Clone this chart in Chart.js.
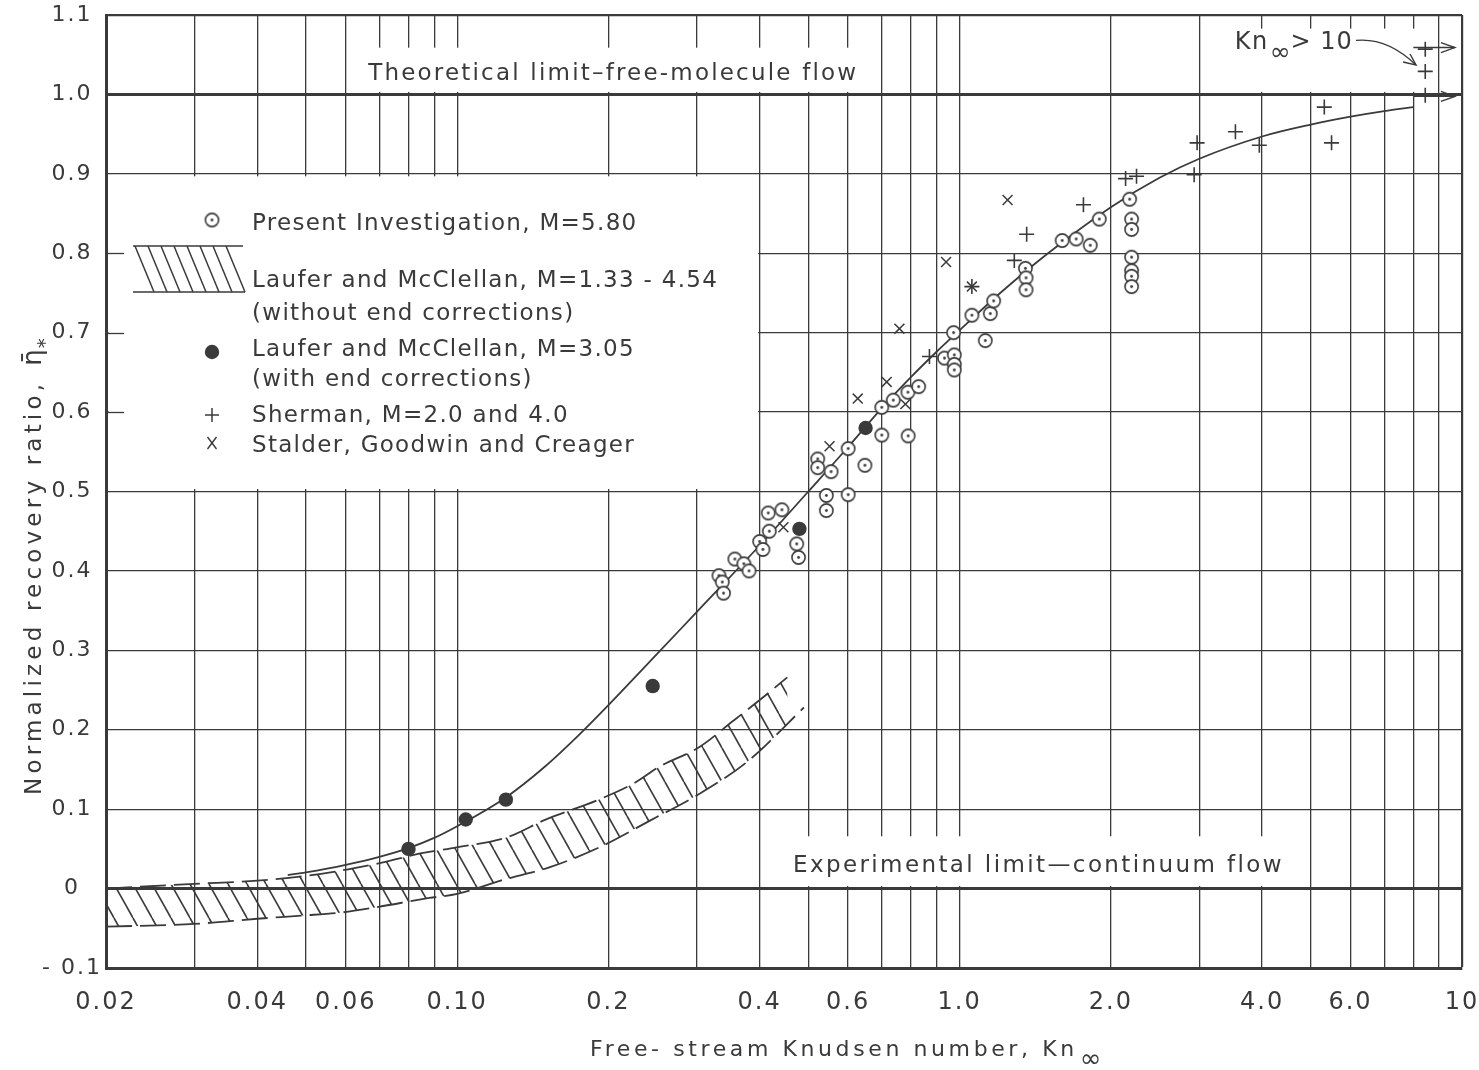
<!DOCTYPE html>
<html>
<head>
<meta charset="utf-8">
<title>Normalized recovery ratio vs free-stream Knudsen number</title>
<script src="https://cdn.jsdelivr.net/npm/chart.js@4.4.1/dist/chart.umd.min.js"></script>
<style>
html, body { margin: 0; padding: 0; background: #ffffff; }
#wrap { position: relative; width: 1479px; height: 1070px; }
canvas { display: block; }
</style>
</head>
<body>
<div id="wrap"><canvas id="chart" width="1479" height="1070"></canvas></div>
<script>
// ================= DATA =================
const xGridValues = [0.02, 0.03, 0.04, 0.05, 0.06, 0.07, 0.08, 0.09, 0.1, 0.2, 0.3, 0.4, 0.5, 0.6, 0.7, 0.8, 0.9, 1, 2, 3, 4, 5, 6, 7, 8, 9, 10];
const xLabelValues = [0.02, 0.04, 0.06, 0.1, 0.2, 0.4, 0.6, 1, 2, 4, 6, 10];
const xLabelTexts  = ['0.02', '0.04', '0.06', '0.10', '0.2', '0.4', '0.6', '1.0', '2.0', '4.0', '6.0', '10'];
const yGridValues  = [-0.1, 0, 0.1, 0.2, 0.3, 0.4, 0.5, 0.6, 0.7, 0.8, 0.9, 1.0, 1.1];
const yLabelTexts  = ['- 0.1', '0', '0.1', '0.2', '0.3', '0.4', '0.5', '0.6', '0.7', '0.8', '0.9', '1.0', '1.1'];

// Present Investigation, M = 5.80
const presentX = [0.332, 0.337, 0.339, 0.357, 0.372, 0.381, 0.400, 0.406, 0.418, 0.416, 0.443, 0.474, 0.478,
                  0.522, 0.522, 0.555, 0.543, 0.543, 0.600, 0.600, 0.648, 0.700, 0.700, 0.738, 0.789, 0.790, 0.829,
                  0.933, 0.976, 0.976, 0.976, 0.973, 1.058, 1.151, 1.169, 1.125, 1.352, 1.356, 1.356,
                  1.60, 1.706, 1.82, 1.897, 2.18, 2.20, 2.20, 2.20, 2.20, 2.20, 2.20];
const presentY = [0.394, 0.386, 0.372, 0.415, 0.409, 0.400, 0.437, 0.427, 0.450, 0.473, 0.477, 0.434, 0.417,
                  0.541, 0.530, 0.525, 0.495, 0.476, 0.554, 0.496, 0.533, 0.606, 0.571, 0.615, 0.625, 0.570, 0.632,
                  0.668, 0.672, 0.660, 0.653, 0.700, 0.722, 0.724, 0.740, 0.690, 0.781, 0.769, 0.754,
                  0.816, 0.818, 0.810, 0.843, 0.868, 0.843, 0.830, 0.795, 0.778, 0.771, 0.758];

// Laufer and McClellan, M = 3.05 (with end corrections)
const lauferX = [0.080, 0.104, 0.125, 0.245, 0.480, 0.650];
const lauferY = [0.050, 0.087, 0.112, 0.255, 0.453, 0.580];

// Sherman, M = 2.0 and 4.0 (last three: Kn > 10)
const shermanX = [0.871, 1.058, 1.285, 1.36, 1.764, 2.14, 2.25, 2.93, 2.97, 3.54, 3.95, 5.32, 5.50, 8.45, 8.45, 8.45];
const shermanY = [0.670, 0.758, 0.791, 0.824, 0.861, 0.894, 0.897, 0.899, 0.939, 0.953, 0.936, 0.984, 0.939, 1.057, 1.029, 0.999];

// Stalder, Goodwin and Creager
const stalderX = [0.446, 0.551, 0.627, 0.716, 0.759, 0.780, 0.940, 1.058, 1.246];
const stalderY = [0.455, 0.557, 0.617, 0.638, 0.705, 0.610, 0.789, 0.758, 0.867];

// Faired curve
const curveX = [0.046, 0.05, 0.06, 0.07, 0.08, 0.09, 0.1, 0.125, 0.15, 0.175, 0.2, 0.25, 0.3, 0.4, 0.5,
                0.6, 0.7, 0.8, 0.9, 1.0, 1.2, 1.5, 2.0, 2.5, 3.0, 4.0, 5.0, 6.0, 7.0, 8.0];
const curveY = [0.017, 0.0205, 0.030, 0.040, 0.051, 0.0638, 0.0785, 0.1148, 0.1543, 0.1938, 0.2309, 0.2954, 0.3485, 0.432, 0.500,
                0.556, 0.605, 0.644, 0.676, 0.703, 0.749, 0.800, 0.858, 0.895, 0.919, 0.947, 0.962, 0.972, 0.979, 0.984];

// Laufer and McClellan, M = 1.33 - 4.54 (without end corrections): band limits
const bandUpperX = [0.02, 0.03, 0.04, 0.05, 0.0603, 0.0712, 0.0849, 0.0998, 0.1257, 0.150, 0.1896, 0.224, 0.2535, 0.303, 0.355, 0.414, 0.454];
const bandUpperY = [0.000, 0.006, 0.010, 0.016, 0.024, 0.033, 0.0445, 0.052, 0.0646, 0.0869, 0.111, 0.132, 0.154, 0.178, 0.2116, 0.245, 0.266];
const bandLowerX = [0.02, 0.03, 0.04, 0.049, 0.059, 0.069, 0.088, 0.1, 0.122, 0.153, 0.192, 0.242, 0.303, 0.38, 0.49];
const bandLowerY = [-0.048, -0.0445, -0.038, -0.034, -0.030, -0.0235, -0.0118, -0.0067, 0.010, 0.027, 0.052, 0.0856, 0.119, 0.161, 0.228];

const legendTexts = ['Present Investigation, M=5.80', 'Laufer and McClellan, M=1.33 - 4.54', '(without end corrections)',
                     'Laufer and McClellan, M=3.05', '(with end corrections)', 'Sherman, M=2.0 and 4.0', 'Stalder, Goodwin and Creager'];

// ================= STYLE / LAYOUT =================
const INK = '#3a3a3a';
const FONT = '"DejaVu Sans", Verdana, sans-serif';
const near = (a, b) => Math.abs(a - b) < 1e-9;
const zip = (xs, ys) => xs.map((v, i) => ({ x: v, y: ys[i] }));

const canvas = document.getElementById('chart');
const mainCtx = canvas.getContext('2d');

// circle with centre dot marker
const dotCircle = (() => {
  const c = document.createElement('canvas'); c.width = 17; c.height = 17;
  const g = c.getContext('2d');
  g.strokeStyle = INK; g.lineWidth = 1.6; g.fillStyle = '#ffffff';
  g.beginPath(); g.arc(8.5, 8.5, 6.6, 0, Math.PI * 2); g.fill(); g.stroke();
  g.fillStyle = INK; g.beginPath(); g.arc(8.5, 8.5, 1.4, 0, Math.PI * 2); g.fill();
  return c;
})();

// diagonal hatch pattern
const hatch = (() => {
  const w = 19, h = 34;
  const c = document.createElement('canvas'); c.width = w; c.height = h;
  const g = c.getContext('2d');
  g.strokeStyle = INK; g.lineWidth = 1.6;
  for (const dx of [-w, 0, w]) { g.beginPath(); g.moveTo(dx, 0); g.lineTo(dx + w, h); g.stroke(); }
  return mainCtx.createPattern(c, 'repeat');
})();

// areas where the grid is blanked out behind lettering (data coordinates)
const clearBoxes = [
  { x0: 0.066, x1: 0.66, y0: 1.0, y1: 1.062 },
  { x0: 0.02,  x1: 0.4,  y0: 0.5, y1: 0.9 },
  { x0: 0.43,  x1: 4.55, y0: 0.0, y1: 0.069 },
  { x0: 3.55,  x1: 8.7,  y0: 1.0, y1: 1.086 }
];

function text(ctx, str, x, y, size, spacing, align = 'left', baseline = 'middle') {
  ctx.save();
  ctx.font = size + 'px ' + FONT;
  ctx.letterSpacing = spacing + 'px';
  ctx.fillStyle = INK; ctx.textAlign = align; ctx.textBaseline = baseline;
  ctx.fillText(str, x, y);
  const w = ctx.measureText(str).width;
  ctx.restore();
  return w;
}
function line(ctx, pts, w = 1.4) {
  ctx.save(); ctx.strokeStyle = INK; ctx.lineWidth = w; ctx.beginPath();
  pts.forEach((p, i) => i ? ctx.lineTo(p[0], p[1]) : ctx.moveTo(p[0], p[1]));
  ctx.stroke(); ctx.restore();
}

const decor = {
  id: 'decor',
  beforeUpdate(chart) { chart.ctx.letterSpacing = '2px'; },
  beforeDatasetsDraw(chart) {
    const { ctx, chartArea: a, scales: { x, y } } = chart;
    ctx.save();
    ctx.fillStyle = '#ffffff';
    for (const b of clearBoxes) {
      const l = x.getPixelForValue(b.x0) + 2.5, r = x.getPixelForValue(b.x1) - 1.5;
      const t = y.getPixelForValue(b.y1) + 2.5, bt = y.getPixelForValue(b.y0) - 2.5;
      ctx.fillRect(l, t, r - l, bt - t);
    }
    ctx.restore();
    for (const v of [0.8, 0.7, 0.6]) {
      const py = Math.round(y.getPixelForValue(v)) + 0.5;
      line(ctx, [[a.left, py], [a.left + 18, py]], 1.3);
    }
  },
  afterDatasetsDraw(chart) {
    const { ctx, chartArea: a, scales: { x, y } } = chart;
    const P = (xv, yv) => [x.getPixelForValue(xv), y.getPixelForValue(yv)];

    // ---- legend ----
    const sx = a.left + 106, tx = a.left + 146;
    const rows = [209, 266, 299, 335, 365, 401, 431].map(v => a.top + v);
    ctx.drawImage(dotCircle, sx - 8.5, a.top + 205 - 8.5);
    const hy0 = a.top + 231, hy1 = a.top + 277;
    line(ctx, [[a.left + 27, hy0], [a.left + 137, hy0]], 1.5);
    line(ctx, [[a.left + 27, hy1], [a.left + 139, hy1]], 1.5);
    for (let i = 0; i < 8; i++) {
      const x0 = a.left + 29 + i * 13;
      line(ctx, [[x0, hy0], [x0 + 19, hy1]], 1.5);
    }
    ctx.save(); ctx.fillStyle = INK; ctx.beginPath(); ctx.arc(sx, a.top + 337, 7.2, 0, Math.PI * 2); ctx.fill(); ctx.restore();
    line(ctx, [[sx - 7, a.top + 400], [sx + 7, a.top + 400]], 1.5);
    line(ctx, [[sx, a.top + 393], [sx, a.top + 407]], 1.5);
    line(ctx, [[sx - 4.5, a.top + 422], [sx + 4.5, a.top + 434]], 1.4);
    line(ctx, [[sx + 4.5, a.top + 422], [sx - 4.5, a.top + 434]], 1.4);
    legendTexts.forEach((s, i) => text(ctx, s, tx, rows[i], 23, 1.3));

    // ---- limit labels ----
    const th = P(0.0665, 1.026);
    text(ctx, 'Theoretical limit–free-molecule flow', th[0], th[1], 23, 2.2);
    const ex = P(0.466, 0.028);
    text(ctx, 'Experimental limit—continuum flow', ex[0], ex[1], 23, 2.4);

    // ---- Kn > 10 note ----
    const kn = P(3.53, 1.065);
    let w = text(ctx, 'Kn', kn[0], kn[1], 24, 1.5);
    w += text(ctx, '∞', kn[0] + w + 1, kn[1] + 11, 25, 0);
    text(ctx, '> 10', kn[0] + w + 1, kn[1], 24, 1);
    const k0 = P(6.15, 1.068), kc = P(7.1, 1.072), k1 = P(8.1, 1.037);
    ctx.save(); ctx.strokeStyle = INK; ctx.lineWidth = 1.4; ctx.beginPath();
    ctx.moveTo(k0[0], k0[1]); ctx.quadraticCurveTo(kc[0], kc[1], k1[0], k1[1]); ctx.stroke(); ctx.restore();
    line(ctx, [[k1[0] - 13, k1[1] - 3], k1, [k1[0] - 6, k1[1] - 11]], 1.4);
    for (const av of [1.059, 0.9975]) {
      const p0 = P(8.0, av), p1 = P(9.68, av);
      line(ctx, [p0, p1], 1.4);
      line(ctx, [[p1[0] - 14, p1[1] - 5], p1, [p1[0] - 14, p1[1] + 5]], 1.4);
    }

    // ---- axis titles ----
    const xw = text(ctx, 'Free- stream Knudsen number, Kn', 590, 1050, 22, 3.6);
    text(ctx, '∞', 590 + xw + 2, 1060, 26, 0);
    ctx.save(); ctx.translate(35, 795); ctx.rotate(-Math.PI / 2);
    const yw = text(ctx, 'Normalized recovery ratio,', 0, 0, 23, 4.2);
    const ew = text(ctx, 'η̄', yw + 14, -1, 26, 0);
    text(ctx, '*', yw + 14 + ew + 1, 11, 20, 0);
    ctx.restore();
  }
};

new Chart(canvas, {
  type: 'scatter',
  data: {
    datasets: [
      { label: 'Present Investigation, M=5.80', data: zip(presentX, presentY), pointStyle: dotCircle, pointRadius: 7, borderColor: INK },
      { label: 'Laufer and McClellan, M=3.05 (with end corrections)', data: zip(lauferX, lauferY), pointStyle: 'circle', pointRadius: 7.2, backgroundColor: INK, borderColor: INK, borderWidth: 0 },
      { label: 'Sherman, M=2.0 and 4.0', data: zip(shermanX, shermanY), pointStyle: 'cross', pointRadius: 7.5, borderColor: INK, borderWidth: 1.6 },
      { label: 'Stalder, Goodwin and Creager', data: zip(stalderX, stalderY), pointStyle: 'crossRot', pointRadius: 7, borderColor: INK, borderWidth: 1.5 },
      { label: 'Faired curve', data: zip(curveX, curveY), showLine: true, pointRadius: 0, borderColor: INK, borderWidth: 1.8, cubicInterpolationMode: 'monotone', fill: false },
      { label: 'Laufer and McClellan, M=1.33-4.54 upper', data: zip(bandUpperX, bandUpperY), showLine: true, pointRadius: 0, borderColor: INK, borderWidth: 1.8, borderDash: [26, 8], cubicInterpolationMode: 'monotone', fill: false },
      { label: 'Laufer and McClellan, M=1.33-4.54 lower', data: zip(bandLowerX, bandLowerY), showLine: true, pointRadius: 0, borderColor: INK, borderWidth: 1.8, borderDash: [26, 8], cubicInterpolationMode: 'monotone', fill: '-1', backgroundColor: hatch }
    ]
  },
  options: {
    responsive: false,
    animation: false,
    devicePixelRatio: 1,
    layout: { padding: { top: 15, right: 17, left: 0, bottom: 0 } },
    plugins: { legend: { display: false }, tooltip: { enabled: false } },
    scales: {
      x: {
        type: 'logarithmic', min: 0.02, max: 10,
        afterBuildTicks: s => { s.ticks = xGridValues.map(v => ({ value: v })); },
        afterFit: s => { s.height = 102; s.paddingLeft = 0; s.paddingRight = 0; },
        ticks: {
          autoSkip: false, maxRotation: 0, minRotation: 0, padding: 20, color: INK,
          font: { family: FONT, size: 24 },
          callback: v => { const i = xLabelValues.findIndex(t => near(t, v)); return i >= 0 ? xLabelTexts[i] : ''; }
        },
        grid: { color: INK, drawTicks: false, lineWidth: c => (c.tick && near(c.tick.value, 10)) ? 2.2 : 1.3 },
        border: { display: true, color: INK, width: 3 }
      },
      y: {
        min: -0.1, max: 1.1,
        afterBuildTicks: s => { s.ticks = yGridValues.map(v => ({ value: v })); },
        afterFit: s => { s.width = 106; s.paddingTop = 0; s.paddingBottom = 0; },
        ticks: {
          padding: 4, crossAlign: 'center', color: INK, font: { family: FONT, size: 22 },
          callback: v => { const i = yGridValues.findIndex(t => near(t, v)); return i >= 0 ? yLabelTexts[i] : ''; }
        },
        grid: {
          color: INK, drawTicks: false,
          lineWidth: c => { const v = c.tick ? c.tick.value : 0; return (near(v, 1) || near(v, 0)) ? 3 : (near(v, 1.1) ? 2.2 : 1.3); }
        },
        border: { display: true, color: INK, width: 3 }
      }
    }
  },
  plugins: [decor]
});
</script>
</body>
</html>
